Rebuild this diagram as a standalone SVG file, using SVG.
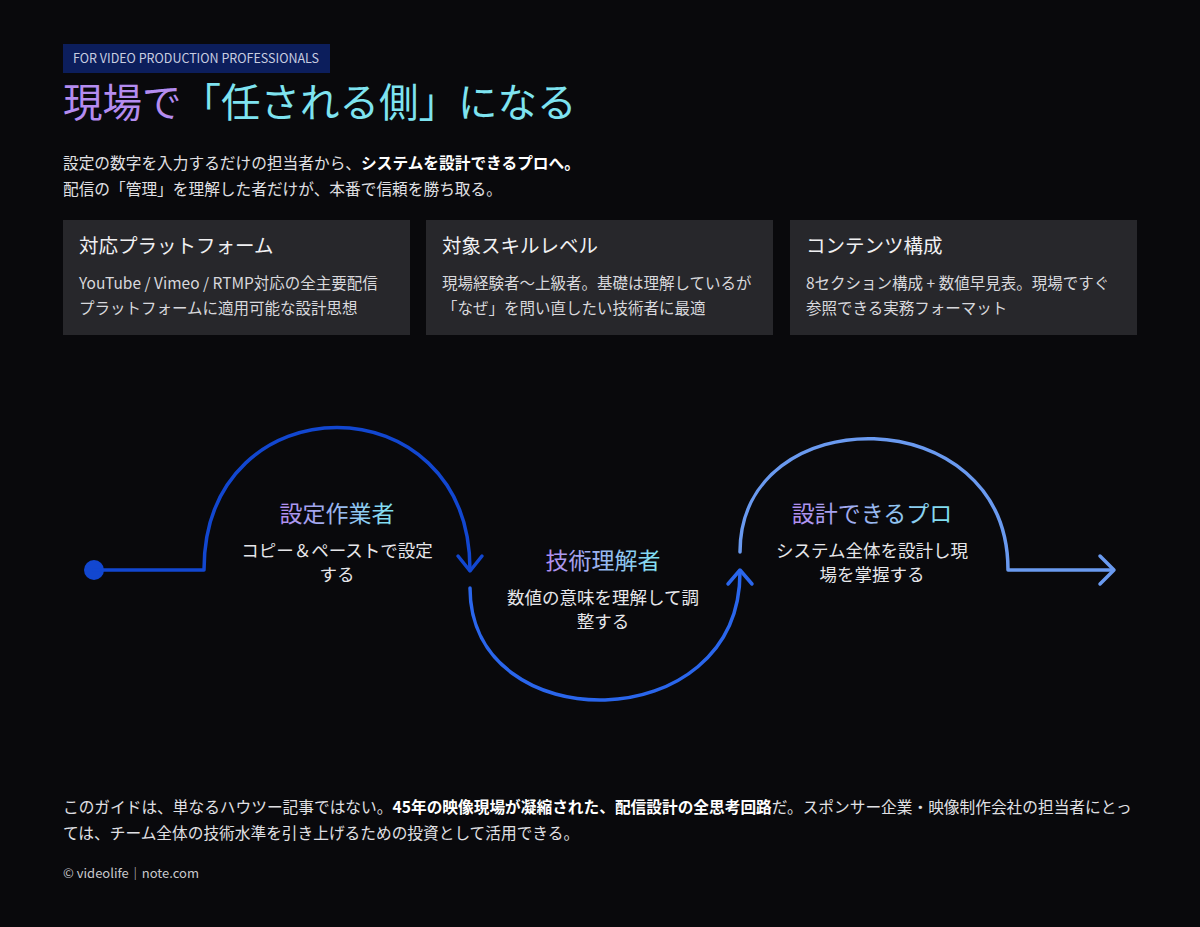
<svg xmlns="http://www.w3.org/2000/svg" width="1200" height="927" viewBox="0 0 1200 927">
<defs>
<linearGradient id="tg" x1="0" y1="0" x2="1" y2="0"><stop offset="0" stop-color="#b48cf0"/><stop offset="1" stop-color="#7ee3f0"/></linearGradient>
<style>
text{font-family:"Noto Sans CJK JP","Noto Sans",sans-serif}
.card{fill:#27272b}
.ch{fill:#f0f0f2;font-size:19.5px}
.cb{fill:#d8d8dc;font-size:15.5px}
.nt{fill:url(#tg);font-size:23px;text-anchor:middle}
.nb{fill:#e6e6ea;font-size:17.5px;text-anchor:middle}
.p{fill:none;stroke-width:3.5;stroke-linecap:round;stroke-linejoin:round}
</style>
</defs>
<rect width="1200" height="927" fill="#09090c"/>
<rect x="63" y="44" width="267" height="29" fill="#0c1e5c"/>
<text x="73" y="63" fill="#c8cde0" font-size="12.5">FOR VIDEO PRODUCTION PROFESSIONALS</text>
<text x="63" y="117" font-size="39.5"><tspan fill="#b48cf0">現場で</tspan><tspan fill="#7ee3f0">「任される側」になる</tspan></text>
<text x="63" y="169" fill="#e0e0e4" font-size="15.7">設定の数字を入力するだけの担当者から、<tspan font-weight="bold" fill="#fff">システムを設計できるプロへ。</tspan></text>
<text x="63" y="195" fill="#e0e0e4" font-size="15.7">配信の「管理」を理解した者だけが、本番で信頼を勝ち取る。</text>
<g id="card1"><rect class="card" x="63" y="220" width="347" height="115"/><text class="ch" x="79" y="253">対応プラットフォーム</text><text class="cb" x="79" y="289">YouTube / Vimeo / RTMP対応の全主要配信</text><text class="cb" x="79" y="314">プラットフォームに適用可能な設計思想</text></g>
<g id="card2"><rect class="card" x="426" y="220" width="347" height="115"/><text class="ch" x="442" y="253">対象スキルレベル</text><text class="cb" x="442" y="289">現場経験者〜上級者。基礎は理解しているが</text><text class="cb" x="442" y="314">「なぜ」を問い直したい技術者に最適</text></g>
<g id="card3"><rect class="card" x="790" y="220" width="347" height="115"/><text class="ch" x="806" y="253">コンテンツ構成</text><text class="cb" x="806" y="289">8セクション構成 + 数値早見表。現場ですぐ</text><text class="cb" x="806" y="314">参照できる実務フォーマット</text></g>
<g id="connectors">
<circle cx="94" cy="570" r="10" fill="#1247d0"/>
<path class="p" stroke="#1247d0" d="M94 570 H204 C204 380 470 380 470 570"/>
<path class="p" stroke="#1247d0" d="M458 556 L470 571 L482 556"/>
<path class="p" stroke="#2a66ec" d="M470 588 C470 740 740 740 740 572"/>
<path class="p" stroke="#2a66ec" d="M728 584 L740 570 L752 584"/>
<path class="p" stroke="#6a9af0" d="M740 552 C740 398 1008 398 1008 570 H1112"/>
<path class="p" stroke="#6a9af0" d="M1100 556 L1114 570 L1100 584"/>
</g>
<g id="n1"><text class="nt" x="337" y="522">設定作業者</text><text class="nb" x="337" y="557">コピー＆ペーストで設定</text><text class="nb" x="337" y="581">する</text></g>
<g id="n2"><text class="nt" x="603" y="569">技術理解者</text><text class="nb" x="603" y="604">数値の意味を理解して調</text><text class="nb" x="603" y="628">整する</text></g>
<g id="n3"><text class="nt" x="872" y="522">設計できるプロ</text><text class="nb" x="872" y="557">システム全体を設計し現</text><text class="nb" x="872" y="581">場を掌握する</text></g>
<text x="63" y="813" fill="#e0e0e4" font-size="15.7">このガイドは、単なるハウツー記事ではない。<tspan font-weight="bold" fill="#fff">45年の映像現場が凝縮された、配信設計の全思考回路</tspan>だ。スポンサー企業・映像制作会社の担当者にとっ</text>
<text x="63" y="839" fill="#e0e0e4" font-size="15.7">ては、チーム全体の技術水準を引き上げるための投資として活用できる。</text>
<text x="63" y="878" fill="#c8c8cc" font-size="13">© videolife｜note.com</text>
</svg>
